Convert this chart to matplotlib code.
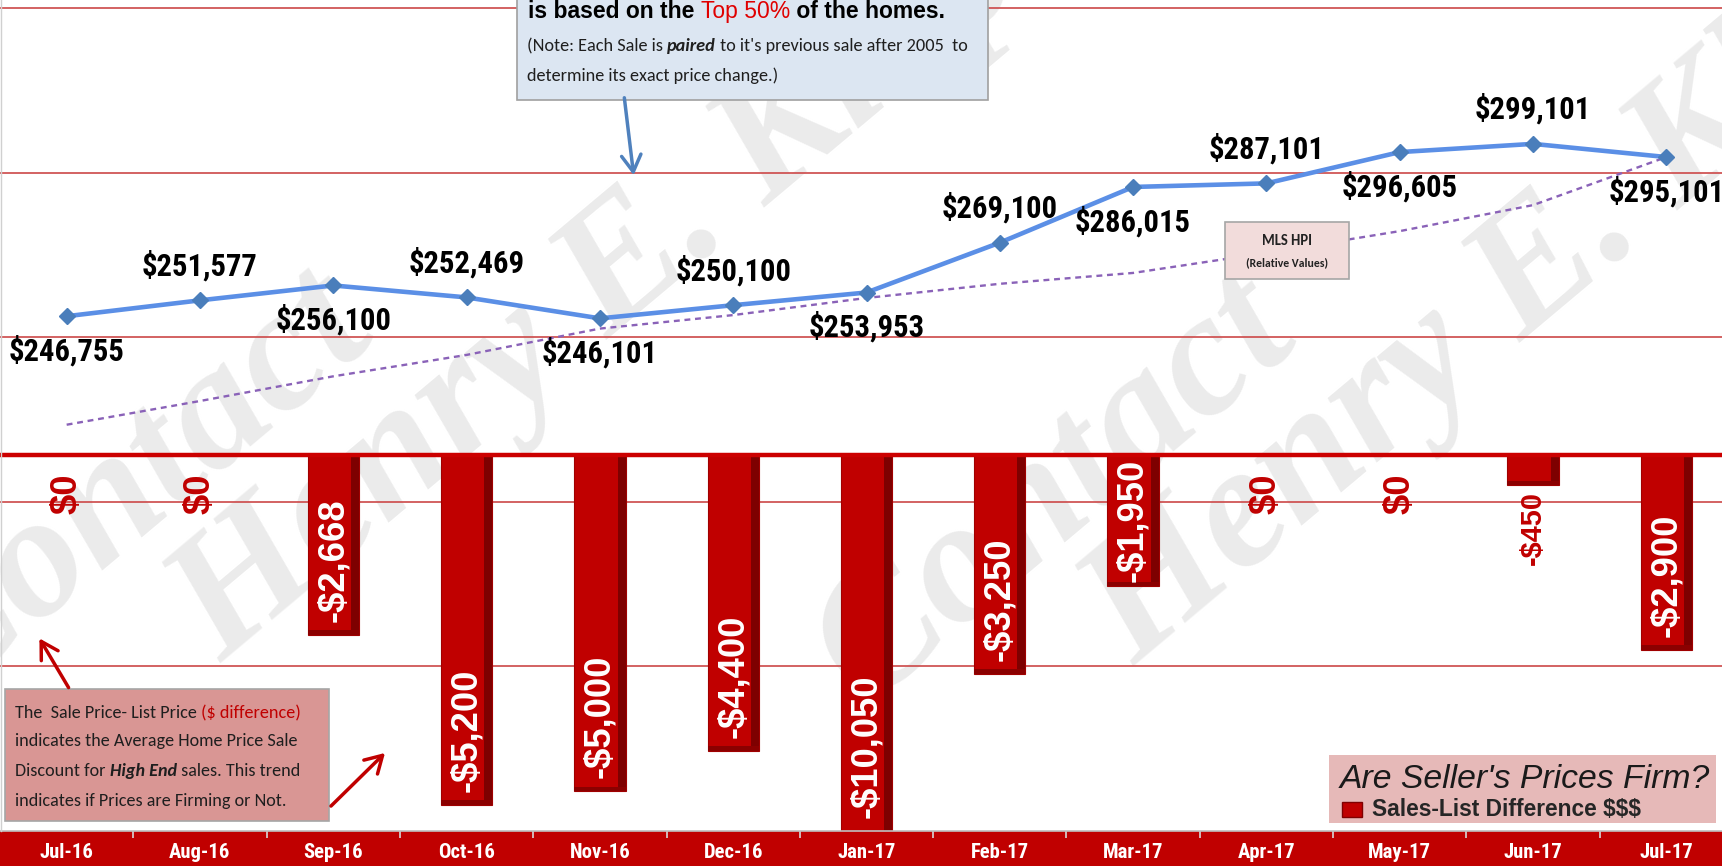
import os
import numpy as np
import matplotlib
matplotlib.use('Agg')
import matplotlib.pyplot as plt
from matplotlib import font_manager as fm
from matplotlib.font_manager import FontProperties
from matplotlib.patches import Rectangle, FancyArrowPatch

# ---------------- data ----------------
months = ['Jul-16', 'Aug-16', 'Sep-16', 'Oct-16', 'Nov-16', 'Dec-16', 'Jan-17',
          'Feb-17', 'Mar-17', 'Apr-17', 'May-17', 'Jun-17', 'Jul-17']
sale_price = [246755, 251577, 256100, 252469, 246101, 250100, 253953,
              269100, 286015, 287101, 296605, 299101, 295101]
mls_hpi = [213800, 221000, 228500, 235000, 243000, 247100, 252300,
           256600, 259900, 266000, 272600, 280500, 295100]
sales_list_diff = [0, 0, -2668, -5200, -5000, -4400, -10050,
                   -3250, -1950, 0, 0, -450, -2900]
label_side = ['below', 'above', 'below', 'above', 'below', 'above', 'below',
              'above', 'below', 'above', 'below', 'above', 'below']

# ---------------- figure ----------------
W, H = 1722, 866
fig = plt.figure(figsize=(W / 100, H / 100), dpi=100)
fig.patch.set_facecolor('white')
renderer = fig.canvas.get_renderer()

names = {f.name for f in fm.fontManager.ttflist}
files = [f.fname for f in fm.fontManager.ttflist]


def pick(*fams):
    for f in fams:
        if f in names:
            return f
    return 'DejaVu Sans'


def find_file(*patterns):
    for p in patterns:
        for f in files:
            if os.path.basename(f).lower().replace(' ', '').startswith(p):
                return f
    return None


SANS = pick('Liberation Sans', 'Arial', 'DejaVu Sans')
SERIF = pick('Liberation Serif', 'DejaVu Serif')
LATO = pick('Lato', 'Open Sans', 'Liberation Sans')


def fkw(patterns, fallback):
    f = find_file(*patterns)
    if f:
        return dict(fontproperties=FontProperties(fname=f))
    return dict(fallback)


NB = fkw(['liberationsansnarrow-bold.', 'arialnarrowbold', 'arialnb', 'robotocondensed-bold.',
          'notosans-condensedbold.', 'opensans-condensedbold.', 'opensanscondensed-bold.',
          'dejavusanscondensed-bold.'], dict(family=SANS, weight='bold'))
NR = fkw(['carlito-regular', 'liberationsansnarrow-regular', 'robotocondensed-regular',
          'notosans-condensed.', 'opensans-condensed.', 'dejavusanscondensed.'],
         dict(family=LATO))
NBI = fkw(['carlito-bolditalic', 'liberationsansnarrow-bolditalic', 'robotocondensed-bolditalic',
           'notosans-condensedbolditalic', 'dejavusanscondensed-boldoblique'],
          dict(family=LATO, weight='bold', style='italic'))
NRB = fkw(['carlito-bold.', 'liberationsansnarrow-bold.', 'robotocondensed-bold.',
           'notosans-condensedbold.', 'dejavusanscondensed-bold.'],
          dict(family=LATO, weight='bold'))


def text_width(s, size=10, **kw):
    t = fig.text(0, 0, s, fontsize=size, **kw)
    w = t.get_window_extent(renderer).width
    t.remove()
    return w


def fit(s, target, **kw):
    return 10.0 * target / text_width(s, 10, **kw)


def seg_width(s, size, kw):
    return text_width(s + '|', size, **kw) - text_width('|', size, **kw)


def draw_segments(ax, x, y, segs, size, zorder=6):
    for s, kw in segs:
        ax.text(x, y, s, fontsize=size, ha='left', va='baseline', zorder=zorder, **kw)
        x += seg_width(s, size, kw)


def fit_segments(segs, target):
    total = sum(seg_width(s, 10, kw) for s, kw in segs)
    return 10.0 * target / total


BAND_TOP = 831
ZERO_Y = 455
X_RIGHT = 1733 / W
n = len(months)
x = np.arange(n)

# ---------------- watermark ----------------
wm = [("Contact", -58, 700), ("Henry E. Klop", 222, 664),
      ("Contact", 865, 705), ("Henry E. Klop", 1135, 667)]
for s, px, py in wm:
    fig.text(px / W, 1 - py / H, s, fontsize=127, family=SERIF, style='italic',
             weight='bold', color='#EBEBEB', rotation=40, rotation_mode='anchor',
             ha='left', va='baseline', zorder=-1)

# ---------------- line chart ----------------
ax_line = fig.add_axes([0, (H - BAND_TOP) / H, X_RIGHT, BAND_TOP / H], zorder=1)
ax_line.patch.set_visible(False)
ax_line.set_xlim(-0.5, n - 0.5)
ax_line.set_ylim(90400, 342800)
for sp in ax_line.spines.values():
    sp.set_visible(False)
ax_line.set_xticks([])
ax_line.set_yticks([140400, 190400, 240400, 290400, 340400])
ax_line.tick_params(length=0, labelleft=False)
ax_line.grid(axis='y', color='#CC4848', lw=1.2)

ax_line.plot(x, mls_hpi, color='#8A62B8', lw=1.7, ls=(0, (2.5, 2)), zorder=3)
ax_line.plot(x, sale_price, color='#5B8FE6', lw=3.3, marker='D', ms=8,
             mfc='#4A7EBB', mec='#4A7EBB', zorder=4)

lab_fs = fit('$246,755', 116, **NB)
for i, v in enumerate(sale_price):
    dy = 25 if label_side[i] == 'above' else -25
    ax_line.annotate(f"${v:,}", (i, v), xytext=(0, dy), textcoords='offset points',
                     ha='center', va='center', fontsize=lab_fs, color='black',
                     zorder=6, annotation_clip=False, **NB)

# ---------------- bar chart ----------------
ax_bar = fig.add_axes([0, (H - BAND_TOP) / H, X_RIGHT, (BAND_TOP - ZERO_Y) / H], zorder=2)
ax_bar.patch.set_visible(False)
ax_bar.set_xlim(-0.5, n - 0.5)
ymin_bar = -5587
ax_bar.set_ylim(ymin_bar, 0)
ax_bar.axis('off')

bw = 0.385
vals = np.array(sales_list_diff, dtype=float)
ax_bar.bar(x, vals, width=bw, color='#C00000', edgecolor='#A00000', lw=0.8, zorder=2)
ax_bar.bar(x + bw / 2, vals, width=-0.06, align='edge', color='#7E0000', zorder=3)
bottom_h = np.where(vals < 0, 70, 0)
ax_bar.bar(x, bottom_h, bottom=vals, width=bw, color='#8B0000', zorder=3)
ax_bar.axhline(0, color='#CC0000', lw=3.2, clip_on=False, zorder=5)

bar_fs = fit('-$5,200', 123, family=SANS, weight='bold')
small_fs = fit('-$450', 74, family=SANS, weight='bold')
for i, v in enumerate(sales_list_diff):
    label = f"-${abs(v):,}" if v < 0 else "$0"
    if abs(v) >= 1000:
        y = max(v, ymin_bar)
        pad = 4 if abs(v) < 2000 else 13
        ax_bar.annotate(label, (i, y), xytext=(0, pad * 0.72), textcoords='offset points',
                        rotation=90, rotation_mode='anchor', ha='left', va='center',
                        color='white', fontsize=bar_fs, fontweight='bold', family=SANS,
                        annotation_clip=False, zorder=6)
    else:
        gap = 19 if v == 0 else 6
        fs = bar_fs if v == 0 else small_fs
        ax_bar.annotate(label, (i, v), xytext=(0, -gap * 0.72), textcoords='offset points',
                        rotation=90, rotation_mode='anchor', ha='right', va='center',
                        color='#C00000', fontsize=fs, fontweight='bold', family=SANS,
                        annotation_clip=False, zorder=6)

# ---------------- category band ----------------
ax_band = fig.add_axes([0, 0, X_RIGHT, (H - BAND_TOP) / H], zorder=3)
ax_band.set_facecolor('#C00000')
ax_band.set_xlim(-0.5, n - 0.5)
ax_band.set_ylim(0, 1)
for sp in ax_band.spines.values():
    sp.set_visible(False)
ax_band.set_xticks([])
ax_band.set_yticks([])
tick_fs = fit('Jul-16', 54, **NB)
for i, m in enumerate(months):
    ax_band.text(i, 0.4, m, ha='center', va='center', color='white',
                 fontsize=tick_fs, **NB)
ax_band.vlines(x[:-1] + 0.5, 0.8, 1.0, color='#D8D8D8', lw=1.2)
ax_band.axhline(1.0, color='#BFBFBF', lw=1.2, clip_on=False)

# ---------------- overlay annotations ----------------
ov = fig.add_axes([0, 0, 1, 1], zorder=4)
ov.set_xlim(0, W)
ov.set_ylim(H, 0)
ov.axis('off')
ov.plot([0.5, 0.5], [0, BAND_TOP], color='#D0D0D0', lw=1)

# top note box
ov.add_patch(Rectangle((517, -5), 471, 105, fc='#DCE6F2', ec='#A0A0A0', lw=1.2, zorder=5))
k_b = dict(family=SANS, weight='bold', color='black')
k_r = dict(family=SANS, weight='normal', color='#E00000')
segs1 = [("is based on the ", k_b), ("Top 50%", k_r), (" of the homes.", k_b)]
fs1 = fit_segments(segs1, 417)
draw_segments(ov, 528, 18, segs1, fs1)
k_c = dict(color='#1F1F1F', **NR)
k_ci = dict(color='#1F1F1F', **NBI)
segs2 = [("(Note: Each Sale is ", k_c), ("paired", k_ci),
         (" to it's previous sale after 2005  to", k_c)]
fs2 = fit_segments(segs2, 443)
draw_segments(ov, 527, 51, segs2, fs2)
draw_segments(ov, 527, 81, [("determine its exact price change.)", k_c)], fs2)

ov.add_patch(FancyArrowPatch((624, 95), (634, 178), arrowstyle='->,head_length=0.6,head_width=0.35',
                             mutation_scale=20, color='#4F81BD', lw=2.5, zorder=6))

# bottom-left pink box
ov.add_patch(Rectangle((5, 689), 324, 132, fc='#D99694', ec='#A6A6A6', lw=1.2, zorder=5))
k_p = dict(color='#1F1F1F', **NR)
k_pr = dict(color='#C00000', **NR)
k_pb = dict(color='#1F1F1F', **NBI)
fsp = fit_segments([("indicates the Average Home Price Sale", k_p)], 283)
draw_segments(ov, 15, 718, [("The  Sale Price- List Price ", k_p), ("($ difference)", k_pr)], fsp)
draw_segments(ov, 15, 746, [("indicates the Average Home Price Sale", k_p)], fsp)
draw_segments(ov, 15, 776, [("Discount for ", k_p), ("High End", k_pb), (" sales. This trend", k_p)], fsp)
draw_segments(ov, 15, 806, [("indicates if Prices are Firming or Not.", k_p)], fsp)

ov.add_patch(FancyArrowPatch((70, 690), (38, 636), arrowstyle='->,head_length=0.6,head_width=0.35',
                             mutation_scale=20, color='#C00000', lw=2.5, zorder=6))
ov.add_patch(FancyArrowPatch((329, 808), (387, 751), arrowstyle='->,head_length=0.6,head_width=0.35',
                             mutation_scale=20, color='#C00000', lw=2.5, zorder=6))

# MLS HPI box
ov.add_patch(Rectangle((1225, 222), 124, 57, fc='#F2DCDB', ec='#A6A6A6', lw=1.2, zorder=5))
ov.text(1287, 241, "MLS HPI", ha='center', va='center', color='#222222',
        fontsize=fit("MLS HPI", 50, **NRB), zorder=6, **NRB)
ov.text(1287, 263, "(Relative Values)", ha='center', va='center', color='#222222',
        fontsize=fit("(Relative Values)", 82, **NRB), zorder=6, **NRB)

# legend box
ov.add_patch(Rectangle((1329, 755), 387, 68, fc='#E6B9B8', ec='none', zorder=5))
ov.text(1340, 779, "Are Seller's Prices Firm?", ha='left', va='center', color='#1A1A1A',
        family=SANS, style='italic',
        fontsize=fit("Are Seller's Prices Firm?", 372, family=SANS, style='italic'), zorder=6)
ov.add_patch(Rectangle((1342, 802), 20, 15, fc='#C00000', ec='#7F0000', lw=1, zorder=6))
ov.text(1372, 810, "Sales-List Difference $$$", ha='left', va='center', color='#262626',
        family=SANS, weight='bold',
        fontsize=fit("Sales-List Difference $$$", 270, family=SANS, weight='bold'), zorder=6)

fig.savefig('out.png', dpi=100, facecolor='white')
